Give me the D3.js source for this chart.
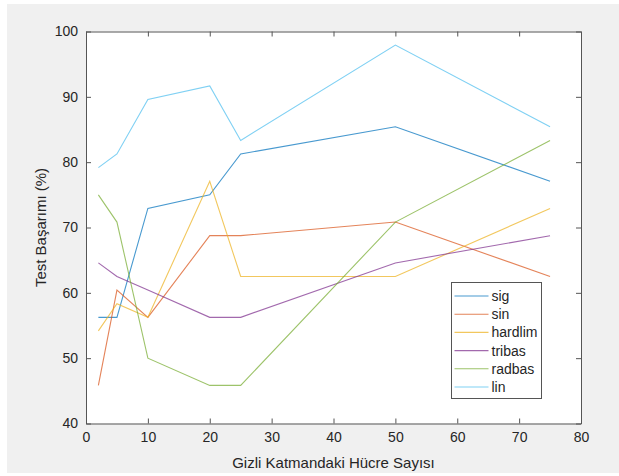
<!DOCTYPE html>
<html>
<head>
<meta charset="utf-8">
<title>Test Başarımı</title>
<style>
  body { margin: 0; background: #fff; }
  text { font-family: "Liberation Sans", Arial, sans-serif; fill: #262626; }
  .tick text { font-size: 14px; }
  .axisLabel { font-size: 15px; }
  .legendText { font-size: 14px; }
  .series { fill: none; stroke-width: 1.1; stroke-opacity: 0.72; }
</style>
<script src="https://d3js.org/d3.v7.min.js"></script>
</head>
<body>
<script>
// hidden layer cell counts
var cells = [2, 5, 10, 20, 25, 50, 75];
var names = ["sig", "sin", "hardlim", "tribas", "radbas", "lin"];
var sig     = [56.25, 56.25, 72.92, 75.00, 81.25, 85.42, 77.08];
var sinv    = [45.83, 60.42, 56.25, 68.75, 68.75, 70.83, 62.50];
var hardlim = [54.17, 58.33, 56.25, 77.08, 62.50, 62.50, 72.92];
var tribas  = [64.58, 62.50, 60.42, 56.25, 56.25, 64.58, 68.75];
var radbas  = [75.00, 70.83, 50.00, 45.83, 45.83, 70.83, 83.33];
var lin     = [79.17, 81.25, 89.58, 91.67, 83.33, 97.92, 85.42];
var xTicks = [0, 10, 20, 30, 40, 50, 60, 70, 80];
var yTicks = [40, 50, 60, 70, 80, 90, 100];
var colors = ["#0072BD", "#D95319", "#EDB120", "#7E2F8E", "#77AC30", "#4DBEEE"];

var seriesVals = [sig, sinv, hardlim, tribas, radbas, lin];
var series = names.map(function(n, i) {
  return { name: n, color: colors[i], pts: cells.map(function(c, j) { return [c, seriesVals[i][j]]; }) };
});

var W = 619, H = 476;
var margin = {left: 86, right: 38, top: 31.5, bottom: 52.5};
var width = W - margin.left - margin.right,
    height = H - margin.top - margin.bottom;

var svg = d3.select("body").append("svg")
    .attr("width", W)
    .attr("height", H);

// figure background
svg.append("rect")
   .attr("x", 7).attr("y", 4)
   .attr("width", W - 7).attr("height", 469)
   .attr("fill", "#f0f0f0");

var g = svg.append("g")
    .attr("transform", "translate(" + margin.left + "," + margin.top + ")");

var x = d3.scaleLinear().domain([0, 80]).range([0, width]);
var y = d3.scaleLinear().domain([40, 100]).range([height, 0]);

g.append("rect")
 .attr("width", width).attr("height", height)
 .attr("fill", "#fff");

// axes with inward ticks on all four sides
function styleAxis(sel) {
  sel.select(".domain").attr("stroke", "#555");
  sel.selectAll(".tick line").attr("stroke", "#555");
}
g.append("g")
 .attr("transform", "translate(0," + height + ")")
 .call(d3.axisBottom(x).tickValues(xTicks).tickSizeInner(-5).tickSizeOuter(0).tickPadding(9))
 .call(styleAxis)
 .selectAll("text").attr("fill", "#262626");
g.append("g")
 .call(d3.axisTop(x).tickValues(xTicks).tickSizeInner(-5).tickSizeOuter(0).tickFormat(""))
 .call(styleAxis);
g.append("g")
 .call(d3.axisLeft(y).tickValues(yTicks).tickSizeInner(-5).tickSizeOuter(0).tickPadding(8))
 .call(styleAxis)
 .selectAll("text").attr("fill", "#262626");
g.append("g")
 .attr("transform", "translate(" + width + ",0)")
 .call(d3.axisRight(y).tickValues(yTicks).tickSizeInner(-5).tickSizeOuter(0).tickFormat(""))
 .call(styleAxis);
g.selectAll(".tick text").attr("font-family", null).attr("font-size", null);

var line = d3.line()
    .x(function(d) { return x(d[0]); })
    .y(function(d) { return y(d[1]); });

g.selectAll(".series")
 .data(series)
 .enter()
 .append("path")
 .attr("class", "series")
 .attr("d", function(d) { return line(d.pts); })
 .attr("stroke", function(d) { return d.color; });

// axis titles
g.append("text")
 .attr("class", "axisLabel")
 .attr("x", width / 2)
 .attr("y", height + 44)
 .attr("text-anchor", "middle")
 .text("Gizli Katmandaki Hücre Sayısı");
g.append("text")
 .attr("class", "axisLabel")
 .attr("transform", "translate(" + (-40) + "," + (height / 2) + ") rotate(-90)")
 .attr("text-anchor", "middle")
 .text("Test Başarımı (%)");

// legend
var legend = svg.append("g").attr("transform", "translate(451.5,282.5)");
legend.append("rect")
 .attr("width", 90).attr("height", 116)
 .attr("fill", "#fff")
 .attr("stroke", "#555");
var item = legend.selectAll(".item")
 .data(series)
 .enter()
 .append("g")
 .attr("transform", function(d, i) { return "translate(0," + (13.5 + i * 18.2) + ")"; });
item.append("line")
 .attr("x1", 3).attr("x2", 37)
 .attr("stroke", function(d) { return d.color; })
 .attr("stroke-opacity", 0.72)
 .attr("stroke-width", 1.1);
item.append("text")
 .attr("class", "legendText")
 .attr("x", 40)
 .attr("dy", "0.35em")
 .text(function(d) { return d.name; });
</script>
</body>
</html>
